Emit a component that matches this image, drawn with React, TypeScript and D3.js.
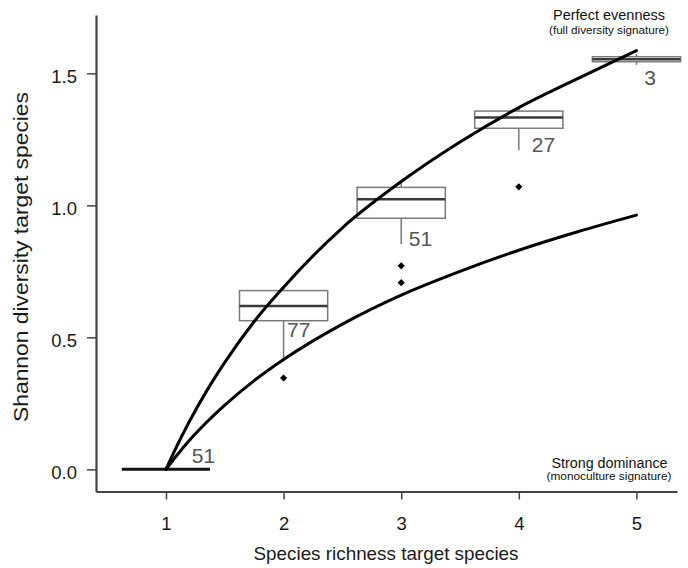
import React, { useEffect, useRef } from 'react';
import * as d3 from 'd3';

// boxplot summaries per species richness
const richness = [1, 2, 3, 4, 5];
const counts = [51, 77, 51, 27, 3];
const whiskerLow = [0, 0.408, 0.853, 1.209, 1.532];
const q1 = [0, 0.563, 0.951, 1.292, 1.544];
const median = [0, 0.619, 1.023, 1.333, 1.553];
const q3 = [0, 0.677, 1.068, 1.357, 1.563];
const whiskerHigh = [0, 0.692, 1.086, 1.376, 1.573];
const outlierS = [2, 3, 3, 4];
const outlierH = [0.346, 0.771, 0.707, 1.07];

// where the n labels sit (data units)
const labelS = [1.22, 2.03, 3.065, 4.11, 5.067];
const labelH = [0.025, 0.5, 0.846, 1.203, 1.456];

// reference curves
const curveS = [1, 1.1, 1.2, 1.35, 1.5, 1.75, 2, 2.5, 3, 3.5, 4, 4.5, 5];
const evennessH = [0, 0.095, 0.182, 0.3, 0.405, 0.56, 0.69, 0.915, 1.09, 1.24, 1.37, 1.48, 1.586];
const dominanceH = [0, 0.057, 0.11, 0.18, 0.243, 0.336, 0.416, 0.55, 0.66, 0.75, 0.83, 0.9, 0.963];

const xTicks = [1, 2, 3, 4, 5];
const yTicks = [0, 0.5, 1, 1.5];

const FONT = '"Liberation Sans", Arial, sans-serif';

const App: React.FC = () => {
  const svgRef = useRef<SVGSVGElement>(null);

  useEffect(() => {
    if (!svgRef.current) return;
    const svg = d3.select(svgRef.current);
    svg.selectAll('*').remove();

    const x = d3.scaleLinear().domain([0.405, 5.345]).range([96, 677]);
    const y = d3.scaleLinear().domain([-0.084, 1.721]).range([491.5, 15]);
    const halfW = 0.375;

    const g = svg.append('g').attr('font-family', FONT);

    // boxes
    richness.forEach((s, i) => {
      const grey = '#7a7a7a';
      g.append('line')
        .attr('x1', x(s)).attr('x2', x(s))
        .attr('y1', y(q3[i])).attr('y2', y(whiskerHigh[i]))
        .attr('stroke', grey).attr('stroke-width', 1.5);
      g.append('line')
        .attr('x1', x(s)).attr('x2', x(s))
        .attr('y1', y(q1[i])).attr('y2', y(whiskerLow[i]))
        .attr('stroke', grey).attr('stroke-width', 1.5);
      g.append('rect')
        .attr('x', x(s - halfW))
        .attr('y', y(q3[i]))
        .attr('width', x(s + halfW) - x(s - halfW))
        .attr('height', Math.max(0, y(q1[i]) - y(q3[i])))
        .attr('fill', 'none')
        .attr('stroke', grey)
        .attr('stroke-width', 1.5);
      g.append('line')
        .attr('x1', x(s - halfW)).attr('x2', x(s + halfW))
        .attr('y1', y(median[i])).attr('y2', y(median[i]))
        .attr('stroke', i === 0 ? '#111' : '#3a3a3a')
        .attr('stroke-width', i === 0 ? 3 : 2.5);

      g.append('text')
        .attr('x', x(labelS[i]))
        .attr('y', y(labelH[i]))
        .attr('fill', '#555')
        .attr('font-size', 21)
        .text(counts[i]);
    });

    // outliers
    outlierS.forEach((s, i) => {
      g.append('path')
        .attr('d', d3.symbol().type(d3.symbolSquare).size(26)() || '')
        .attr('transform', `translate(${x(s)},${y(outlierH[i])}) rotate(45)`)
        .attr('fill', '#000');
    });

    // curves
    const line = d3.line<number>()
      .x((_, i) => x(curveS[i]))
      .y(d => y(d))
      .curve(d3.curveMonotoneX);

    [evennessH, dominanceH].forEach(vals => {
      g.append('path')
        .attr('d', line(vals) || '')
        .attr('fill', 'none')
        .attr('stroke', '#000')
        .attr('stroke-width', 3)
        .attr('stroke-linecap', 'round');
    });

    // axes
    const xAxis = g.append('g')
      .attr('transform', `translate(0,${y.range()[0]})`)
      .call(d3.axisBottom(x).tickValues(xTicks).tickSize(8).tickSizeOuter(0).tickPadding(17).tickFormat(d3.format('d')));
    const yAxis = g.append('g')
      .attr('transform', `translate(${x.range()[0]},0)`)
      .call(d3.axisLeft(y).tickValues(yTicks).tickSize(9).tickSizeOuter(0).tickPadding(10).tickFormat(d3.format('.1f')));

    [xAxis, yAxis].forEach(ax => {
      ax.attr('font-family', FONT).attr('font-size', 18.5);
      ax.select('.domain').attr('stroke', '#444').attr('stroke-width', 2.2);
      ax.selectAll('.tick line').attr('stroke', '#444').attr('stroke-width', 1.5);
      ax.selectAll('.tick text').attr('fill', '#1a1a1a');
    });
    yAxis.selectAll('.tick text').attr('dy', '0.5em');

    // axis titles
    g.append('text')
      .attr('x', 386).attr('y', 560)
      .attr('text-anchor', 'middle')
      .attr('font-size', 19)
      .attr('fill', '#1a1a1a')
      .attr('textLength', 265)
      .attr('lengthAdjust', 'spacingAndGlyphs')
      .text('Species richness target species');

    g.append('text')
      .attr('transform', 'translate(28,257) rotate(-90)')
      .attr('text-anchor', 'middle')
      .attr('font-size', 20)
      .attr('fill', '#1a1a1a')
      .attr('textLength', 330)
      .attr('lengthAdjust', 'spacingAndGlyphs')
      .text('Shannon diversity target species');

    // annotations
    const notes = [
      { t: 'Perfect evenness', cx: 609, by: 20, fs: 14, w: 112 },
      { t: '(full diversity signature)', cx: 609, by: 34, fs: 11, w: 120 },
      { t: 'Strong dominance', cx: 609.5, by: 468, fs: 14, w: 116 },
      { t: '(monoculture signature)', cx: 609, by: 480, fs: 11, w: 125 }
    ];
    notes.forEach(n => {
      g.append('text')
        .attr('x', n.cx).attr('y', n.by)
        .attr('text-anchor', 'middle')
        .attr('font-size', n.fs)
        .attr('fill', '#111')
        .attr('textLength', n.w)
        .attr('lengthAdjust', 'spacingAndGlyphs')
        .text(n.t);
    });
  }, []);

  return (
    <svg
      ref={svgRef}
      width={688}
      height={568}
      style={{ position: 'absolute', left: 0, top: 0, background: '#fff' }}
    />
  );
};

export default App;
